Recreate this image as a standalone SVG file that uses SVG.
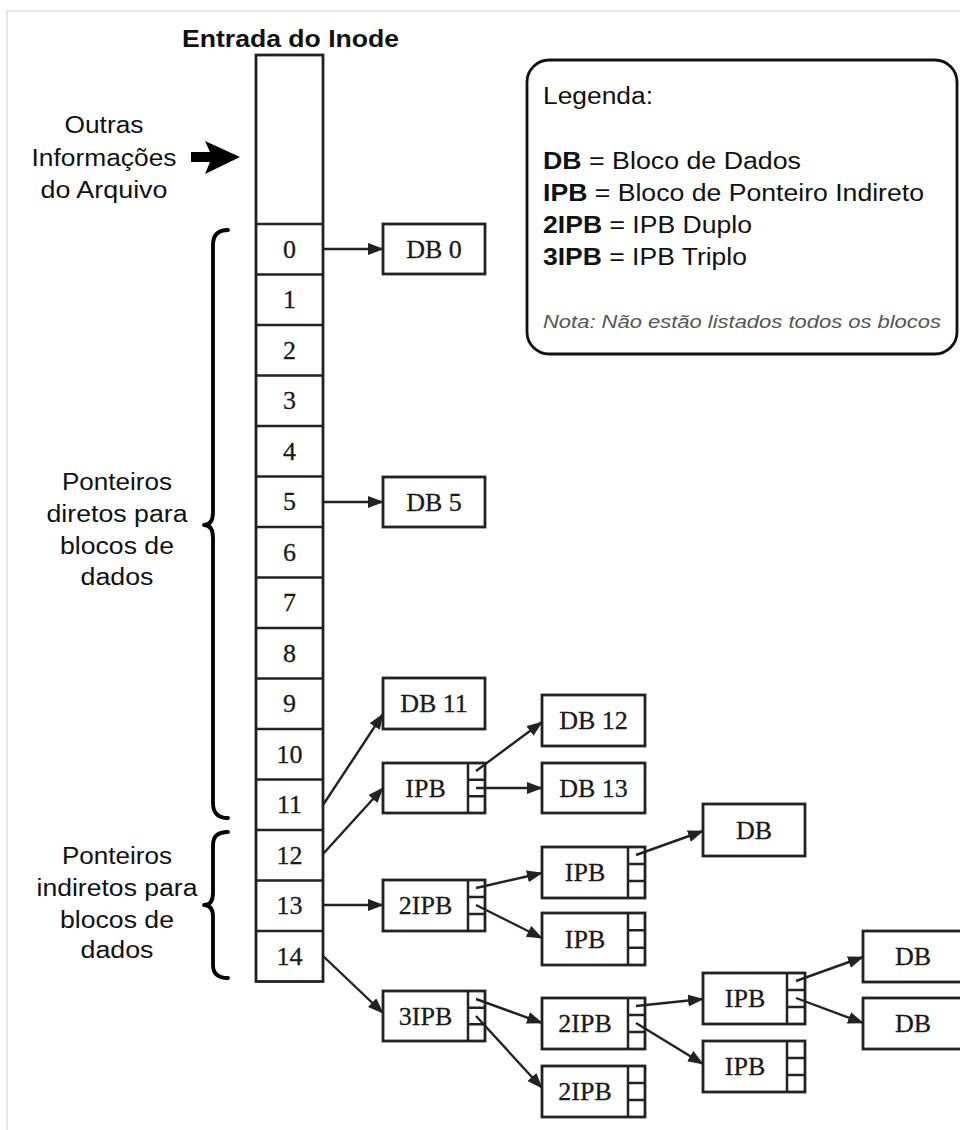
<svg xmlns="http://www.w3.org/2000/svg" width="960" height="1130" viewBox="0 0 960 1130">
<defs>
<style>
.frame{fill:none;stroke:#dddddd;stroke-width:1.5}
.box{fill:#fff;stroke:#222;stroke-width:2.8}
.ln{fill:none;stroke:#222;stroke-width:2.5}
.conn{fill:none;stroke:#222;stroke-width:2.4}
.brace{fill:none;stroke:#000;stroke-width:3.8;stroke-linecap:round;stroke-linejoin:round}
.sf{font-family:"Liberation Serif","DejaVu Serif",serif;font-size:26px;fill:#1a1a1a;text-anchor:middle;stroke:#1a1a1a;stroke-width:0.3}
.ss{font-family:"Liberation Sans",Arial,sans-serif;font-size:23.5px;fill:#111}
.mid{text-anchor:middle}
.b{font-weight:bold}
.nota{font-style:italic;fill:#555;font-size:19px}
</style>
<marker id="ah" markerUnits="userSpaceOnUse" markerWidth="16" markerHeight="13" refX="15" refY="6" orient="auto">
<path d="M0,0 L16,6 L0,12 z" fill="#222"/>
</marker>
</defs>
<rect width="960" height="1130" fill="#fff"/>
<path class="frame" d="M7,1130 V11 H960"/>

<g id="title"><text class="ss b" x="182" y="47" textLength="217" lengthAdjust="spacingAndGlyphs">Entrada do Inode</text></g>

<g id="outras">
<text class="ss mid" x="104" y="133" textLength="79" lengthAdjust="spacingAndGlyphs">Outras</text>
<text class="ss mid" x="104" y="166" textLength="145" lengthAdjust="spacingAndGlyphs">Informações</text>
<text class="ss mid" x="104" y="198" textLength="127" lengthAdjust="spacingAndGlyphs">do Arquivo</text>
<polygon points="191,152 210,152 205,141 240,157 205,174 210,162 191,162" fill="#000"/>
</g>

<g id="inode">
<rect class="box" x="256" y="55" width="67" height="926.5"/>
<path class="ln" d="M256,224 H323 M256,274.5 H323 M256,325 H323 M256,375.5 H323 M256,426 H323 M256,476.5 H323 M256,527 H323 M256,577.5 H323 M256,628 H323 M256,678.5 H323 M256,729 H323 M256,779.5 H323 M256,830 H323 M256,880.5 H323 M256,931 H323"/>
<text class="sf" x="289.5" y="258">0</text>
<text class="sf" x="289.5" y="308">1</text>
<text class="sf" x="289.5" y="359">2</text>
<text class="sf" x="289.5" y="409">3</text>
<text class="sf" x="289.5" y="460">4</text>
<text class="sf" x="289.5" y="510">5</text>
<text class="sf" x="289.5" y="561">6</text>
<text class="sf" x="289.5" y="611">7</text>
<text class="sf" x="289.5" y="662">8</text>
<text class="sf" x="289.5" y="712">9</text>
<text class="sf" x="289.5" y="763">10</text>
<text class="sf" x="289.5" y="813">11</text>
<text class="sf" x="289.5" y="864">12</text>
<text class="sf" x="289.5" y="914">13</text>
<text class="sf" x="289.5" y="965">14</text>
</g>

<g id="brace-diretos">
<path class="brace" d="M228,230 Q213,230 213,245 L213,512 Q213,525 204,525 Q213,525 213,538 L213,803 Q213,818 228,818"/>
<text class="ss mid" x="117" y="490" textLength="110" lengthAdjust="spacingAndGlyphs">Ponteiros</text>
<text class="ss mid" x="117" y="522" textLength="141" lengthAdjust="spacingAndGlyphs">diretos para</text>
<text class="ss mid" x="117" y="554" textLength="114" lengthAdjust="spacingAndGlyphs">blocos de</text>
<text class="ss mid" x="117" y="585" textLength="73" lengthAdjust="spacingAndGlyphs">dados</text>
</g>

<g id="brace-indiretos">
<path class="brace" d="M228,832 Q213,832 213,845 L213,893 Q213,905 204,905 Q213,905 213,917 L213,965 Q213,978 228,978"/>
<text class="ss mid" x="117" y="864" textLength="110" lengthAdjust="spacingAndGlyphs">Ponteiros</text>
<text class="ss mid" x="117" y="896" textLength="161" lengthAdjust="spacingAndGlyphs">indiretos para</text>
<text class="ss mid" x="117" y="928" textLength="114" lengthAdjust="spacingAndGlyphs">blocos de</text>
<text class="ss mid" x="117" y="958" textLength="73" lengthAdjust="spacingAndGlyphs">dados</text>
</g>

<g id="legenda">
<rect class="box" x="527" y="60" width="430" height="294" rx="22" ry="22" style="stroke:#111"/>
<text class="ss" x="543" y="104" textLength="110" lengthAdjust="spacingAndGlyphs">Legenda:</text>
<text class="ss" x="543" y="169" textLength="258" lengthAdjust="spacingAndGlyphs"><tspan class="b">DB</tspan> = Bloco de Dados</text>
<text class="ss" x="543" y="201" textLength="381" lengthAdjust="spacingAndGlyphs"><tspan class="b">IPB</tspan> = Bloco de Ponteiro Indireto</text>
<text class="ss" x="543" y="233" textLength="209" lengthAdjust="spacingAndGlyphs"><tspan class="b">2IPB</tspan> = IPB Duplo</text>
<text class="ss" x="543" y="265" textLength="204" lengthAdjust="spacingAndGlyphs"><tspan class="b">3IPB</tspan> = IPB Triplo</text>
<text class="ss nota" x="543" y="328" textLength="398" lengthAdjust="spacingAndGlyphs">Nota: Não estão listados todos os blocos</text>
</g>

<g id="db0"><rect class="box" x="383" y="224" width="102" height="50"/><text class="sf" x="434" y="258">DB 0</text></g>
<g id="db5"><rect class="box" x="383" y="477" width="102" height="50"/><text class="sf" x="434" y="511">DB 5</text></g>
<g id="db11"><rect class="box" x="383" y="678" width="102" height="51"/><text class="sf" x="434" y="712">DB 11</text></g>
<g id="ipb1"><rect class="box" x="383" y="763" width="102" height="50"/><path class="ln" d="M468,763 V813 M468,779.7 H485 M468,796.3 H485"/><text class="sf" x="425.5" y="797">IPB</text></g>
<g id="db12"><rect class="box" x="542" y="695" width="103" height="51"/><text class="sf" x="593.5" y="729">DB 12</text></g>
<g id="db13"><rect class="box" x="542" y="763" width="103" height="50"/><text class="sf" x="593.5" y="797">DB 13</text></g>

<g id="dipb1"><rect class="box" x="383" y="880" width="102" height="51"/><path class="ln" d="M468,880 V931 M468,897 H485 M468,914 H485"/><text class="sf" x="425.5" y="914">2IPB</text></g>
<g id="ipb2"><rect class="box" x="542" y="847" width="103" height="51"/><path class="ln" d="M628,847 V898 M628,864 H645 M628,881 H645"/><text class="sf" x="585" y="881">IPB</text></g>
<g id="ipb3"><rect class="box" x="542" y="913" width="103" height="52"/><path class="ln" d="M628,913 V965 M628,930.3 H645 M628,947.7 H645"/><text class="sf" x="585" y="948">IPB</text></g>
<g id="db-a"><rect class="box" x="703" y="804" width="102" height="52"/><text class="sf" x="754" y="839">DB</text></g>

<g id="tipb"><rect class="box" x="383" y="991" width="102" height="50"/><path class="ln" d="M468,991 V1041 M468,1007.7 H485 M468,1024.3 H485"/><text class="sf" x="425.5" y="1025">3IPB</text></g>
<g id="dipb2"><rect class="box" x="542" y="998" width="103" height="51"/><path class="ln" d="M628,998 V1049 M628,1015 H645 M628,1032 H645"/><text class="sf" x="585" y="1032">2IPB</text></g>
<g id="dipb3"><rect class="box" x="542" y="1066" width="103" height="51"/><path class="ln" d="M628,1066 V1117 M628,1083 H645 M628,1100 H645"/><text class="sf" x="585" y="1100">2IPB</text></g>
<g id="ipb4"><rect class="box" x="703" y="973" width="102" height="51"/><path class="ln" d="M787,973 V1024 M787,990 H805 M787,1007 H805"/><text class="sf" x="745" y="1007">IPB</text></g>
<g id="ipb5"><rect class="box" x="703" y="1041" width="102" height="51"/><path class="ln" d="M787,1041 V1092 M787,1058 H805 M787,1075 H805"/><text class="sf" x="745" y="1075">IPB</text></g>
<g id="db-b"><rect class="box" x="863" y="931" width="110" height="51"/><text class="sf" x="913" y="965">DB</text></g>
<g id="db-c"><rect class="box" x="863" y="998" width="110" height="51"/><text class="sf" x="913" y="1032">DB</text></g>

<g id="connectors">
<path class="conn" marker-end="url(#ah)" d="M323,249 L383,249"/>
<path class="conn" marker-end="url(#ah)" d="M323,502 L383,502"/>
<path class="conn" marker-end="url(#ah)" d="M323,805 L383,714"/>
<path class="conn" marker-end="url(#ah)" d="M323,854 L383,788"/>
<path class="conn" marker-end="url(#ah)" d="M476,771 L542,722"/>
<path class="conn" marker-end="url(#ah)" d="M476,788 L542,788"/>
<path class="conn" marker-end="url(#ah)" d="M323,905 L383,905"/>
<path class="conn" marker-end="url(#ah)" d="M476,888 L542,873"/>
<path class="conn" marker-end="url(#ah)" d="M476,905 L542,938"/>
<path class="conn" marker-end="url(#ah)" d="M636,855 L703,831"/>
<path class="conn" marker-end="url(#ah)" d="M323,956 L383,1013"/>
<path class="conn" marker-end="url(#ah)" d="M476,999 L542,1023"/>
<path class="conn" marker-end="url(#ah)" d="M476,1016 L542,1088"/>
<path class="conn" marker-end="url(#ah)" d="M636,1006 L703,999"/>
<path class="conn" marker-end="url(#ah)" d="M636,1023 L703,1064"/>
<path class="conn" marker-end="url(#ah)" d="M796,981 L863,957"/>
<path class="conn" marker-end="url(#ah)" d="M796,998 L863,1023"/>
</g>
</svg>
